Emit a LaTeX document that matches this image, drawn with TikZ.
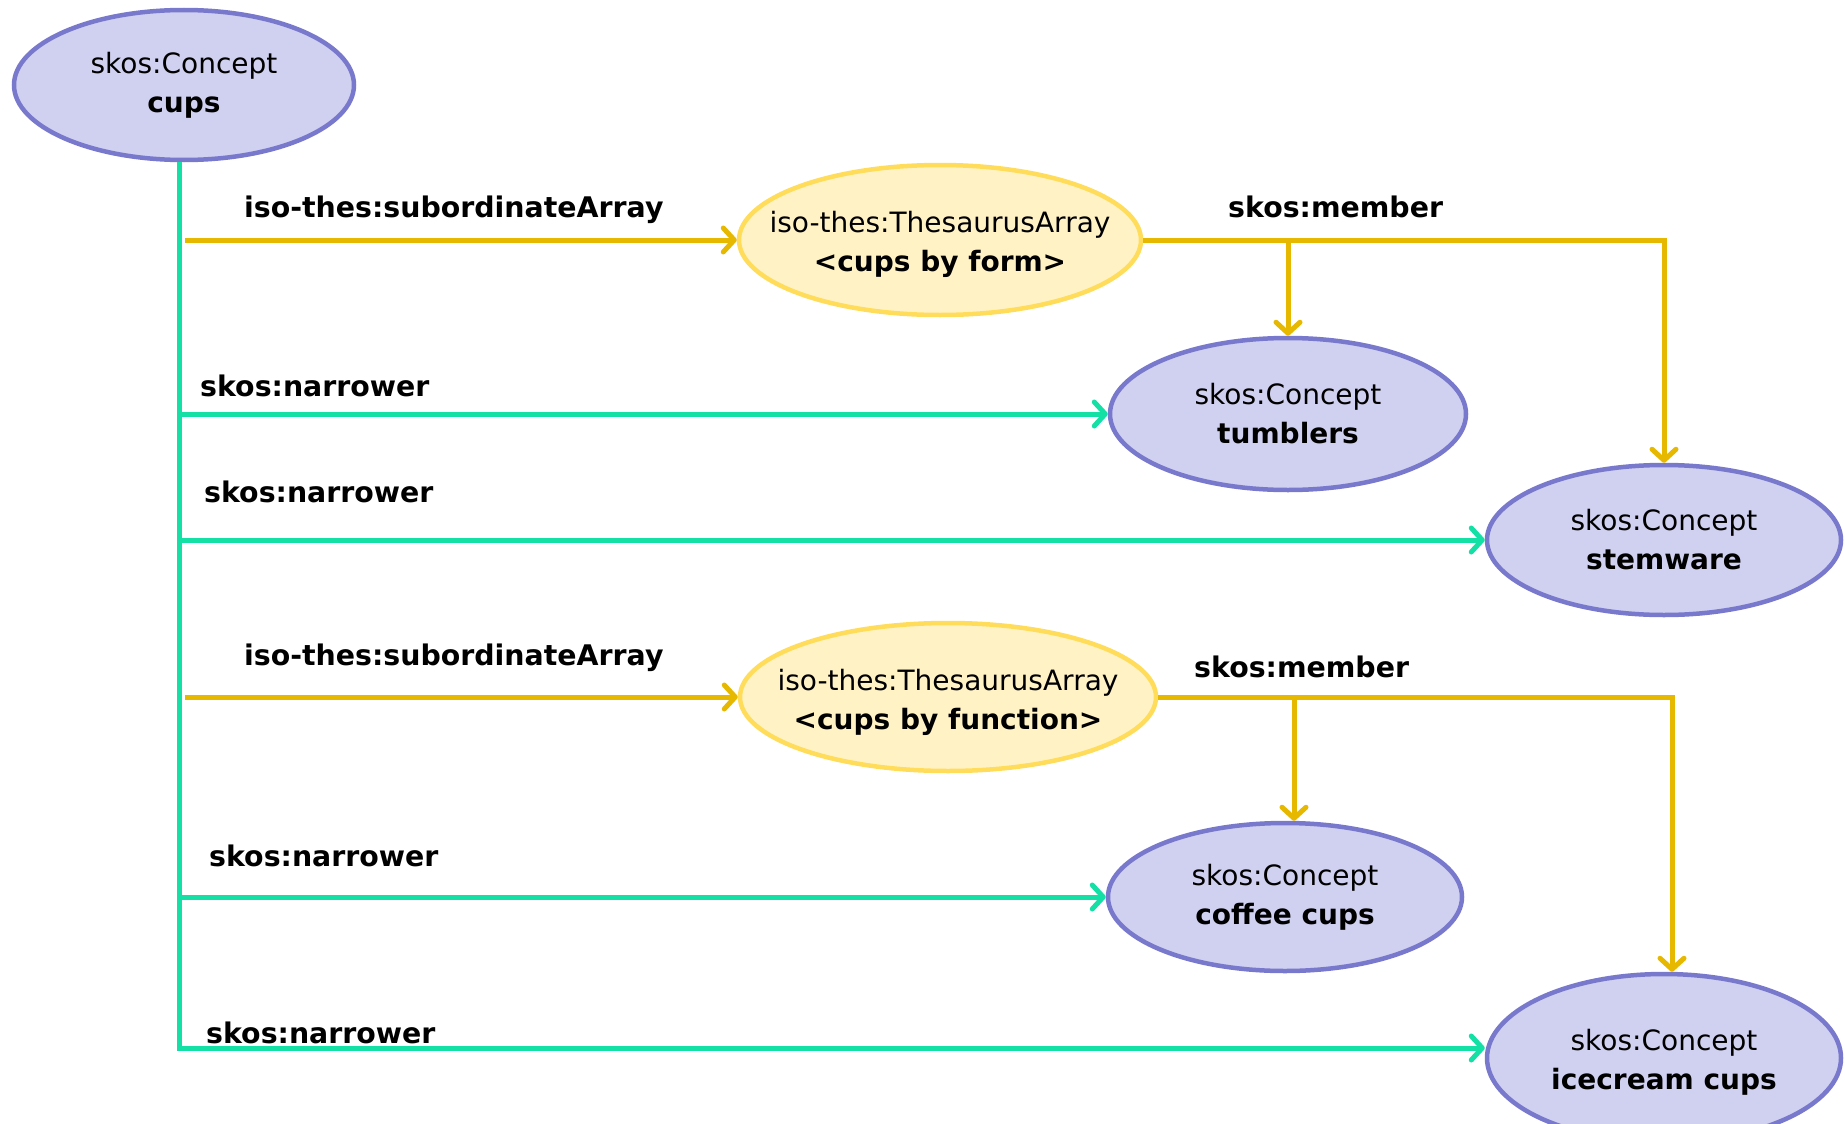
\documentclass[tikz,border=0pt]{standalone}
\usepackage{fontspec}
\setmainfont{DejaVu Sans}
\usetikzlibrary{shapes.geometric,arrows.meta}
\definecolor{cfill}{HTML}{D0D0F0}
\definecolor{cdraw}{HTML}{7878CC}
\definecolor{afill}{HTML}{FFF3C6}
\definecolor{adraw}{HTML}{FFDC5A}
\definecolor{tealline}{HTML}{14E0A5}
\definecolor{goldline}{HTML}{E6B800}
\begin{document}
\begin{tikzpicture}[x=1pt,y=-1pt,
  concept/.style={ellipse, draw=cdraw, fill=cfill, line width=4.5pt, inner sep=0pt},
  tarray/.style={ellipse, draw=adraw, fill=afill, line width=4.5pt, inner sep=0pt},
  txt/.style={align=center, inner sep=0pt, font=\fontsize{28}{39}\selectfont},
  tip/.style={-{Straight Barb[length=11pt,width=24pt,line cap=round,line join=round]}},
  narrowline/.style={draw=tealline, line width=5pt, tip},
  subline/.style={draw=goldline, line width=5pt, tip},
  lab/.style={font=\fontsize{28.4}{34}\selectfont\bfseries, anchor=base west, inner sep=0pt}]
\useasboundingbox (0,0) rectangle (1845,1124);

% ellipses
\node[concept, minimum width=340pt, minimum height=150pt] (cups) at (184,85) {};
\node[tarray, minimum width=402pt, minimum height=150pt] (form) at (940,240) {};
\node[concept, minimum width=356pt, minimum height=152pt] (tumblers) at (1288,414) {};
\node[concept, minimum width=354pt, minimum height=150pt] (stemware) at (1664,540) {};
\node[tarray, minimum width=416pt, minimum height=148pt] (func) at (948,697) {};
\node[concept, minimum width=354pt, minimum height=148pt] (coffee) at (1285,897) {};
\node[concept, minimum width=354pt, minimum height=168pt] (icecream) at (1664,1058) {};

% texts inside
\node[txt] (tcups) at (cups.center) {skos:Concept\\\textbf{cups}};
\node[txt] (tform) at ([yshift=-4pt]form.center) {iso-thes:ThesaurusArray\\\textbf{<cups by form>}};
\node[txt] (ttumblers) at (tumblers.center) {skos:Concept\\\textbf{tumblers}};
\node[txt] (tstemware) at (stemware.center) {skos:Concept\\\textbf{stemware}};
\node[txt] (tfunc) at ([yshift=-5pt]func.center) {iso-thes:ThesaurusArray\\\textbf{<cups by function>}};
\node[txt] (tcoffee) at (coffee.center) {skos:Concept\\\textbf{coffee cups}};
\node[txt] (ticecream) at ([yshift=-4pt]icecream.center) {skos:Concept\\\textbf{icecream cups}};

% helper coordinates
\coordinate (tr) at ([xshift=-5pt]cups.south);
\coordinate (ts) at ([xshift=1pt]cups.south);
\coordinate (coffeein) at ([xshift=9pt]coffee.north);
\coordinate (icein) at ([xshift=8pt]icecream.north);
\coordinate (icewest) at ([yshift=10pt]icecream.west);

% narrower connectors (teal)
\draw[narrowline] (tr) |- (icewest);
\draw[narrowline] (tr |- tumblers.west) -- (tumblers.west);
\draw[narrowline] (tr |- stemware.west) -- (stemware.west);
\draw[narrowline] (tr |- coffee.west) -- (coffee.west);

% subordinate arrays (gold)
\draw[subline] (ts |- form.west) -- (form.west);
\draw[subline] (ts |- func.west) -- (func.west);

% members (gold)
\draw[subline] (form.east) -| (stemware.north);
\draw[subline] (form.east -| tumblers.north) -- (tumblers.north);
\draw[subline] (func.east) -| (icein);
\draw[subline] (func.east -| coffeein) -- (coffeein);

% labels
\node[lab] (l1) at (244,217) {iso-thes:subordinateArray};
\node[lab] (l2) at (1228,217) {skos:member};
\node[lab] (l3) at (200,396) {skos:narrower};
\node[lab] (l4) at (204,502) {skos:narrower};
\node[lab] (l5) at (244,665) {iso-thes:subordinateArray};
\node[lab] (l6) at (1194,677) {skos:member};
\node[lab] (l7) at (209,866) {skos:narrower};
\node[lab] (l8) at (206,1043) {skos:narrower};
\end{tikzpicture}
\end{document}
